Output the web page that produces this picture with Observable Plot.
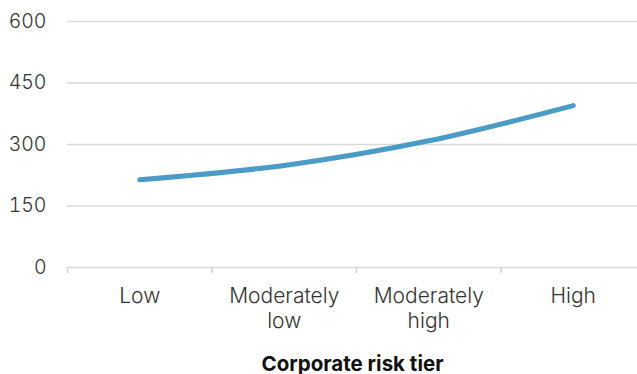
<!DOCTYPE html>
<html><head><meta charset="utf-8">
<script src="https://cdn.jsdelivr.net/npm/d3@7"></script>
<script src="https://cdn.jsdelivr.net/npm/@observablehq/plot@0.6"></script>
<style>body{margin:0;background:#fff}</style>
</head><body><div id="chart"></div>
<script>
const categories = ["Low", "Moderately\nlow", "Moderately\nhigh", "High"];
const values = [214, 249, 309, 395];
const yTicks = [0, 150, 300, 450, 600];
const xTitle = "Corporate risk tier";

const data = categories.map((c, i) => ({pos: i + 0.5, value: values[i]}));
const boundaries = categories.map((c, i) => i).concat([categories.length]);
const labelPos = categories.map((c, i) => i + 0.5);

const chart = Plot.plot({
  width: 637, height: 374,
  marginLeft: 67, marginRight: 0, marginTop: 21, marginBottom: 107,
  style: {fontFamily: "Inter", fontWeight: 300, fontSize: "19px", color: "#333", background: "#fff"},
  x: {domain: [0, categories.length], range: [67, 645]},
  y: {domain: [0, 600]},
  marks: [
    Plot.ruleY(yTicks, {stroke: "#d9d9d9", strokeWidth: 1.5}),
    Plot.axisY({ticks: yTicks, tickSize: 0, tickPadding: 21, label: null, fontSize: 19.5}),
    Plot.axisX({ticks: boundaries, tickSize: 6, stroke: "#d0d0d0", strokeWidth: 1.5, tickFormat: () => "", label: null}),
    Plot.axisX({ticks: labelPos, tickSize: 0, tickPadding: 18, tickFormat: (d) => categories[Math.floor(d)], lineHeight: 1.17, fontSize: 21, label: null}),
    Plot.text([xTitle], {frameAnchor: "bottom", lineAnchor: "bottom", dy: 103, fontWeight: 700, fontSize: 20.5, fill: "#111"}),
    Plot.line(data, {x: "pos", y: "value", stroke: "#4a9bc6", strokeWidth: 5, curve: "monotone-x", strokeLinecap: "round"})
  ]
});
document.getElementById("chart").appendChild(chart);
</script></body></html>
